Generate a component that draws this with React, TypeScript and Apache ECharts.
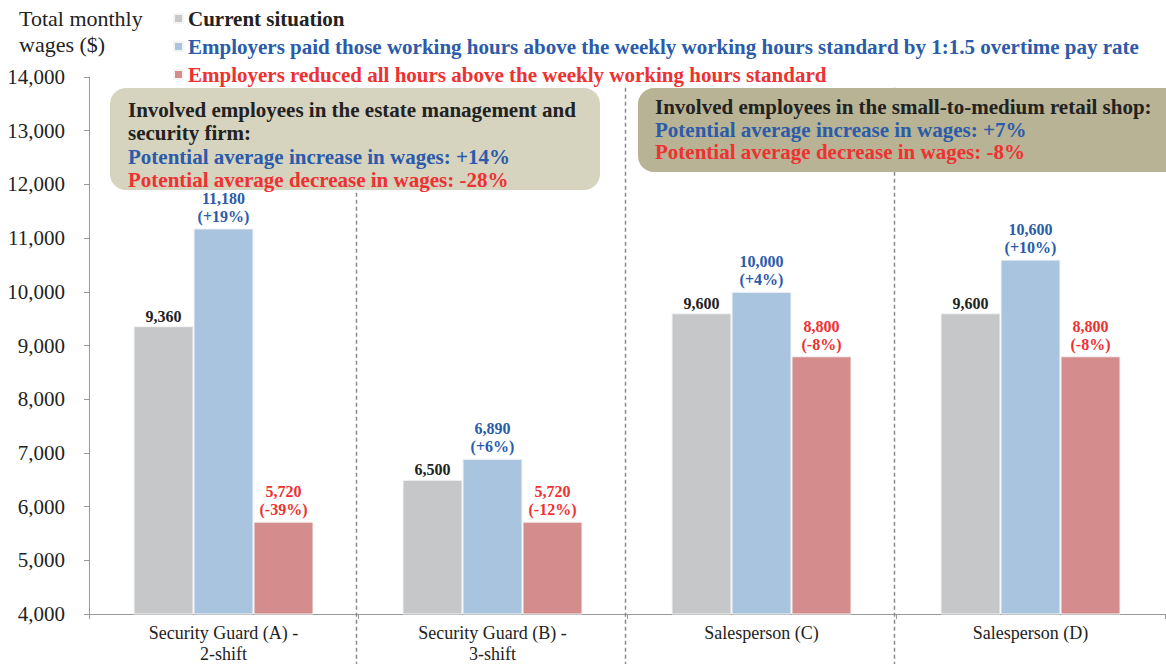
import React, { useEffect, useRef } from "react";
import * as echarts from "echarts";

const categories = ["Security Guard (A) -\n2-shift", "Security Guard (B) -\n3-shift", "Salesperson (C)", "Salesperson (D)"];
const seriesNames = [
  "Current situation",
  "Employers paid those working hours above the weekly working hours standard by 1:1.5 overtime pay rate",
  "Employers reduced all hours above the weekly working hours standard",
];
const currentValues = [9360, 6500, 9600, 9600];
const overtimeValues = [11180, 6890, 10000, 10600];
const reducedValues = [5720, 5720, 8800, 8800];
const overtimePct = ["+19%", "+6%", "+4%", "+10%"];
const reducedPct = ["-39%", "-12%", "-8%", "-8%"];
const yMin = 4000;
const yMax = 14000;
const yInterval = 1000;
const box1Lines = [
  "Involved employees in the estate management and",
  "security firm:",
  "Potential average increase in wages: +14%",
  "Potential average decrease in wages: -28%",
];
const box2Lines = [
  "Involved employees in the small-to-medium retail shop:",
  "Potential average increase in wages: +7%",
  "Potential average decrease in wages: -8%",
];

const SERIF = '"Liberation Serif", "Times New Roman", serif';
const GRAY = "#c6c7c9";
const BLUE = "#a9c4de";
const RED = "#d48d8c";
const BLUE_TXT = "#2b5ba9";
const RED_TXT = "#ee3131";
const DARK = "#222222";

const fmt = (v: number) => v.toLocaleString("en-US");

export default function App() {
  const ref = useRef<HTMLDivElement>(null);
  useEffect(() => {
    if (!ref.current) return;
    const chart = echarts.init(ref.current, null, { renderer: "svg" });
    const barCommon = {
      type: "bar" as const,
      barWidth: 60,
      barGap: "0%",
    };
    chart.setOption({
      animation: false,
      title: {
        text: "Total monthly\nwages ($)",
        left: 14,
        top: 0,
        textStyle: { fontFamily: SERIF, fontSize: 22, fontWeight: "normal", color: DARK, lineHeight: 26 },
      },
      legend: {
        orient: "vertical",
        left: 168,
        top: 3,
        itemWidth: 9,
        itemHeight: 9,
        itemGap: 7,
        icon: "rect",
        textStyle: { fontFamily: SERIF, fontSize: 21, fontWeight: "bold", lineHeight: 21 },
        data: [
          { name: seriesNames[0], textStyle: { color: DARK } },
          { name: seriesNames[1], textStyle: { color: BLUE_TXT } },
          { name: seriesNames[2], textStyle: { color: RED_TXT } },
        ],
      },
      grid: { left: 89, right: 1, top: 77, bottom: 44, containLabel: false },
      xAxis: {
        type: "category",
        data: categories,
        axisLine: { lineStyle: { color: "#999" } },
        axisTick: { show: true, length: 5, lineStyle: { color: "#999" } },
        axisLabel: { fontFamily: SERIF, fontSize: 18, color: DARK, lineHeight: 21, margin: 8 },
      },
      yAxis: {
        type: "value",
        min: yMin,
        max: yMax,
        interval: yInterval,
        splitLine: { show: false },
        axisLine: { show: true, lineStyle: { color: "#999" } },
        axisTick: { show: true, length: 5, lineStyle: { color: "#999" } },
        axisLabel: { fontFamily: SERIF, fontSize: 21, color: DARK, margin: 24, formatter: (v: number) => fmt(v) },
      },
      series: [
        {
          ...barCommon,
          name: seriesNames[0],
          data: currentValues,
          itemStyle: { color: GRAY, borderColor: "#f4f4f4", borderWidth: 1 },
          label: {
            show: true,
            position: "top",
            distance: 2,
            fontFamily: SERIF,
            fontSize: 16,
            fontWeight: "bold",
            color: DARK,
            formatter: (p: any) => fmt(p.value),
          },
        },
        {
          ...barCommon,
          name: seriesNames[1],
          data: overtimeValues,
          itemStyle: { color: BLUE, borderColor: "#f4f4f4", borderWidth: 1 },
          label: {
            show: true,
            position: "top",
            distance: 3,
            fontFamily: SERIF,
            fontSize: 16,
            fontWeight: "bold",
            color: BLUE_TXT,
            lineHeight: 18,
            formatter: (p: any) => `${fmt(p.value)}\n(${overtimePct[p.dataIndex]})`,
          },
        },
        {
          ...barCommon,
          name: seriesNames[2],
          data: reducedValues,
          itemStyle: { color: RED, borderColor: "#f4f4f4", borderWidth: 1 },
          label: {
            show: true,
            position: "top",
            distance: 3,
            fontFamily: SERIF,
            fontSize: 16,
            fontWeight: "bold",
            color: RED_TXT,
            lineHeight: 18,
            formatter: (p: any) => `${fmt(p.value)}\n(${reducedPct[p.dataIndex]})`,
          },
        },
      ],
    });

    // Category boundaries for dashed dividers
    const centers = categories.map((_, i) => chart.convertToPixel({ xAxisIndex: 0 }, i) as number);
    const yTop = chart.convertToPixel({ yAxisIndex: 0 }, 13800) as number;
    const graphics: any[] = [];
    for (let i = 0; i < centers.length - 1; i++) {
      const x = Math.round((centers[i] + centers[i + 1]) / 2) - 1.5;
      graphics.push({
        type: "line",
        z: 1,
        shape: { x1: x, y1: yTop, x2: x, y2: 664 },
        style: { stroke: "#8a8a8a", lineWidth: 1.5, lineDash: [4, 3] },
      });
    }
    graphics.push({
      type: "rect",
      z: 10,
      shape: { x: 110, y: 88, width: 490, height: 102, r: 16 },
      style: { fill: "#d6d3bf" },
    });
    graphics.push({
      type: "rect",
      z: 10,
      shape: { x: 638, y: 88, width: 560, height: 84, r: 16 },
      style: { fill: "#b8b394" },
    });
    const lineColors1 = [DARK, DARK, BLUE_TXT, RED_TXT];
    box1Lines.forEach((t, i) => {
      graphics.push({
        type: "text",
        z: 11,
        style: {
          text: t,
          x: 128,
          y: 110 + i * 23.3,
          verticalAlign: "middle",
          fontFamily: SERIF,
          fontSize: 21,
          fontWeight: "bold",
          fill: lineColors1[i],
        },
      });
    });
    const lineColors2 = [DARK, BLUE_TXT, RED_TXT];
    box2Lines.forEach((t, i) => {
      graphics.push({
        type: "text",
        z: 11,
        style: {
          text: t,
          x: 655,
          y: 107 + i * 22.5,
          verticalAlign: "middle",
          fontFamily: SERIF,
          fontSize: 21,
          fontWeight: "bold",
          fill: lineColors2[i],
        },
      });
    });
    chart.setOption({ graphic: graphics });

    return () => chart.dispose();
  }, []);
  return (
    <div
      ref={ref}
      style={{ position: "fixed", left: 0, top: 0, width: 1166, height: 664, background: "#fff" }}
    />
  );
}
